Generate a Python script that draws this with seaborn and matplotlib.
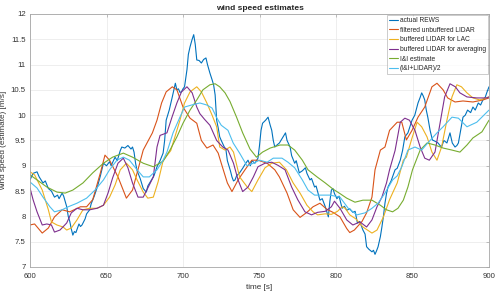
import numpy as np
import pandas as pd
import seaborn as sns
import matplotlib
matplotlib.use("Agg")
import matplotlib.pyplot as plt

# ---- data ----
rews_t = [600, 602, 604.6, 606, 608.5, 610, 612, 614, 616, 618, 619, 621, 622, 624, 625, 626, 627, 628, 629, 630,
          632, 633, 634, 636, 637, 639, 640, 642, 644, 646, 648, 650, 652, 653, 655.6, 657, 659, 660, 662, 664,
          666, 667, 668, 669, 670, 672, 674, 676, 677, 679, 681, 683, 685, 687, 688, 689, 691, 693, 694, 695,
          696, 697, 698, 699, 700, 701, 702.6, 703.5, 704.6, 706, 707, 708, 709, 710.5, 712, 713.5, 715, 716, 717.6, 719,
          720, 721, 721.5, 722, 723, 724, 725, 727, 728, 729, 730, 731, 732, 733, 734, 735, 737, 739, 741, 742.5,
          744, 745, 747, 749, 750, 751, 752, 754, 755.6, 757, 758, 759, 760, 761, 763, 765, 767, 768, 770, 771,
          773, 774, 776, 778, 780, 781, 783, 784, 786, 787, 789.5, 791, 793, 795, 796, 797, 798, 799, 800.6, 802,
          804, 805.5, 807, 809, 811, 812.5, 814, 815.5, 817.6, 819, 820, 821.5, 823.5, 824.5, 825.5, 826.5, 827.5, 829, 830, 831,
          832, 833, 834, 836, 838.6, 840, 842, 843.5, 845, 847, 849.7, 851.5, 853.6, 855, 856, 857, 858, 859, 860, 861.5,
          863, 865, 866.7, 868, 869, 870.5, 872.5, 874.5, 876, 877.8, 879, 880, 881.5, 883, 884.5, 886, 888, 889.5, 891, 893,
          894.5, 896, 897.5, 898.5, 900]
rews_v = [8.72, 8.85, 8.88, 8.78, 8.66, 8.7, 8.55, 8.5, 8.38, 8.42, 8.35, 8.46, 8.4, 8.19, 8.0, 7.9, 7.75, 7.63, 7.7, 7.68,
          7.85, 7.8, 7.83, 7.95, 8.05, 8.13, 8.25, 8.4, 8.58, 8.8, 9.05, 9.0, 9.08, 9.0, 9.17, 9.1, 9.3, 9.37, 9.35, 9.4,
          9.33, 9.37, 9.27, 9.05, 8.9, 8.75, 8.55, 8.48, 8.6, 8.7, 8.8, 8.98, 9.1, 9.25, 9.5, 9.9, 10.1, 10.36, 10.5, 10.63,
          10.5, 10.52, 10.45, 10.46, 10.52, 10.56, 10.9, 11.2, 11.35, 11.5, 11.59, 11.4, 11.09, 11.08, 11.03, 11.1, 11.13, 11.0, 10.83, 10.7,
          10.6, 10.4, 10.16, 9.9, 9.75, 9.57, 9.5, 9.37, 9.33, 9.1, 9.0, 8.9, 8.78, 8.7, 8.72, 8.8, 8.86, 8.95, 9.05, 9.11,
          9.0, 9.1, 9.05, 9.15, 9.4, 9.7, 9.84, 9.9, 9.96, 9.8, 9.7, 9.5, 9.37, 9.4, 9.45, 9.55, 9.65, 9.5, 9.37, 9.2,
          9.05, 9.1, 8.86, 8.9, 8.96, 8.85, 8.72, 8.75, 8.58, 8.6, 8.32, 8.35, 8.19, 7.99, 8.3, 8.52, 8.55, 8.45, 8.35, 8.4,
          8.16, 8.2, 8.12, 8.15, 8.08, 8.1, 7.87, 7.9, 7.73, 7.65, 7.4, 7.35, 7.3, 7.33, 7.25, 7.32, 7.4, 7.6, 7.79, 8.0,
          8.26, 8.45, 8.58, 8.7, 8.92, 8.95, 9.11, 9.3, 9.57, 9.65, 9.9, 10.0, 10.24, 10.35, 10.44, 10.38, 10.3, 10.1, 9.96, 9.7,
          9.51, 9.48, 9.45, 9.4, 9.37, 9.5, 9.45, 9.65, 9.45, 9.37, 9.4, 9.45, 9.7, 9.96, 10.0, 10.1, 10.05, 10.16, 10.1, 10.24,
          10.2, 10.3, 10.35, 10.44, 10.56]

lidar_t = [600, 603, 608, 612, 616, 621, 626, 633, 637, 641, 646, 649, 652, 657.5, 663, 667, 674, 680, 683, 686,
           689, 693, 696, 700, 704.6, 709, 712, 715.6, 719.6, 723, 725, 729, 732, 736, 740.5, 745, 749, 755, 760, 763,
           768, 772, 776.5, 781, 785, 789.5, 794, 798, 802.6, 807, 809, 812, 817, 820, 823.5, 825.5, 829, 832, 835, 840,
           843, 846, 849.7, 853.6, 858, 862.7, 866, 870, 873, 877.8, 883, 889.5, 896, 900]
lidar_v = [7.83, 7.85, 7.67, 7.77, 7.99, 8.13, 8.09, 8.19, 8.19, 8.33, 8.86, 9.21, 9.11, 8.78, 8.36, 8.52, 9.31, 9.65, 9.9, 10.24,
           10.46, 10.56, 10.5, 10.16, 9.94, 9.84, 9.5, 9.35, 9.41, 9.25, 9.05, 8.66, 8.49, 8.72, 8.92, 9.11, 9.11, 9.05, 8.92, 8.78,
           8.46, 8.13, 7.98, 8.08, 8.19, 8.26, 8.14, 8.08, 7.99, 7.76, 7.68, 7.73, 7.9, 8.07, 8.38, 8.92, 9.31, 9.37, 9.7, 9.86,
           9.86, 9.51, 9.7, 9.96, 10.16, 10.56, 10.63, 10.5, 10.34, 10.26, 10.28, 10.26, 10.3, 10.34]

lac_t = [600, 603, 608, 612, 614, 617.6, 621.6, 624, 627, 630.7, 634.6, 639, 644, 648, 652, 655.6, 659, 663, 667, 670,
         674, 677, 680.6, 683.7, 687, 689.5, 692, 695, 698, 701, 704.6, 709, 712, 715.6, 719, 722, 724, 727.5, 730.7, 733,
         737, 742, 745, 749, 753.6, 758, 763, 767.6, 772, 776.5, 781, 785, 788, 793, 797, 801, 804, 806, 809, 813,
         817.6, 823.5, 826.8, 831, 835, 840, 844, 846, 849.7, 853, 856, 859.5, 862.7, 866, 869, 872.5, 875.8, 879, 882, 885.6,
         889.5, 894, 900]
lac_v = [8.88, 8.82, 8.52, 8.13, 7.89, 7.83, 7.79, 7.73, 7.77, 7.93, 8.13, 8.16, 8.16, 8.22, 8.38, 8.62, 8.92, 9.05, 8.92, 8.72,
         8.48, 8.36, 8.38, 8.68, 9.1, 9.2, 9.3, 9.6, 9.9, 10.24, 10.46, 10.56, 10.46, 10.24, 10.0, 9.77, 9.37, 9.31, 9.37, 9.27,
         8.78, 8.58, 8.49, 8.72, 8.96, 9.05, 9.07, 8.92, 8.66, 8.46, 8.22, 8.09, 8.03, 8.05, 8.04, 8.1, 8.19, 8.16, 8.03, 7.95,
         7.79, 7.67, 7.73, 7.99, 8.33, 8.66, 9.11, 9.17, 9.55, 9.86, 9.77, 9.57, 9.27, 9.11, 9.37, 9.9, 10.36, 10.6, 10.56, 10.44,
         10.34, 10.3, 10.36]

avg_t = [600, 602, 604.6, 608, 611, 614, 616, 619.6, 624, 627, 630.7, 634.6, 639, 643.8, 648, 651, 654, 657.5, 661, 664,
         667, 670.6, 674, 677, 680.6, 683, 685, 689.5, 692.8, 696, 699, 702.6, 706, 709, 711, 714, 717.6, 722, 726, 729.4,
         733, 736, 739, 742.5, 746, 749, 753.6, 758, 762, 766.7, 771, 775, 779.7, 784, 788, 793, 797, 799, 802.6, 807,
         811, 815.7, 820, 823.5, 826.8, 830, 833, 835, 838.6, 842, 845, 848, 851.6, 855, 858, 861, 864.7, 868, 871, 874.5,
         878, 881, 885.6, 892, 898.5, 900]
avg_v = [8.56, 8.33, 8.09, 7.83, 7.85, 7.83, 7.69, 7.73, 7.87, 8.07, 8.16, 8.13, 8.13, 8.16, 8.22, 8.46, 8.76, 9.05, 9.15, 8.96,
         8.66, 8.38, 8.38, 8.56, 8.78, 9.37, 9.6, 9.65, 9.96, 10.24, 10.46, 10.56, 10.44, 10.16, 10.03, 9.92, 9.8, 9.5, 9.37, 9.31,
         9.05, 8.72, 8.49, 8.58, 8.78, 8.98, 9.05, 9.07, 9.01, 8.92, 8.58, 8.33, 8.09, 8.03, 8.08, 8.1, 8.19, 8.3, 8.16, 7.93,
         7.83, 7.89, 7.79, 7.93, 8.19, 8.38, 8.66, 8.92, 9.3, 9.86, 9.94, 9.9, 9.7, 9.37, 9.15, 9.11, 9.27, 9.84, 10.36, 10.62,
         10.56, 10.44, 10.36, 10.34, 10.34, 10.36]

ii_t = [600, 604.6, 611, 617.6, 623, 628, 634.6, 641, 648, 654, 661, 667, 674, 680.6, 687, 691.5, 696, 700, 704.6, 709,
        713, 717.6, 721, 724, 727.5, 730.7, 735, 739, 743.8, 748, 752, 757, 763.4, 768.6, 773, 778, 781.7, 787.6, 793, 798,
        802.6, 807, 812.4, 817.6, 823.5, 829, 833, 837, 840.5, 844, 847, 850, 855, 859.5, 864.7, 870, 875.8, 881, 885.6, 889.5,
        895.4, 900]
ii_v = [8.82, 8.72, 8.58, 8.48, 8.46, 8.52, 8.66, 8.86, 9.05, 9.17, 9.25, 9.17, 9.05, 8.98, 9.09, 9.31, 9.57, 9.84, 10.1, 10.3,
        10.5, 10.6, 10.62, 10.56, 10.44, 10.27, 9.96, 9.65, 9.33, 9.17, 9.27, 9.35, 9.41, 9.41, 9.31, 9.11, 8.92, 8.78, 8.66, 8.54,
        8.45, 8.36, 8.28, 8.32, 8.32, 8.22, 8.13, 8.09, 8.16, 8.32, 8.58, 8.92, 9.31, 9.45, 9.41, 9.35, 9.31, 9.27, 9.41, 9.55,
        9.67, 9.9]

mix_t = [600, 604.6, 608.5, 613, 616, 621, 625, 630.7, 637, 642.5, 648, 652, 656.8, 661, 665, 670, 674, 678, 683, 687,
         689.5, 693.5, 698, 701, 705.6, 711, 715.6, 719, 722, 725, 729.4, 732.8, 737, 741.8, 746, 750, 755, 759, 764.7, 768.6,
         773, 778, 781.7, 786, 791, 796, 802.6, 808, 813.7, 819, 823.5, 827.5, 832, 837, 840, 843, 847, 851.6, 856, 860,
         866, 870, 875.8, 880, 885.6, 892, 900]
mix_v = [8.68, 8.56, 8.38, 8.19, 8.09, 8.13, 8.19, 8.26, 8.36, 8.52, 8.72, 8.92, 9.11, 9.17, 9.11, 8.92, 8.78, 8.78, 8.92, 9.11,
         9.27, 9.65, 9.96, 10.16, 10.2, 10.24, 10.2, 10.14, 9.95, 9.8, 9.7, 9.45, 9.25, 9.0, 9.05, 9.11, 9.07, 9.15, 9.15, 9.07,
         8.96, 8.72, 8.52, 8.42, 8.42, 8.42, 8.38, 8.16, 8.03, 8.07, 8.16, 8.26, 8.46, 8.72, 8.8, 8.98, 9.31, 9.37, 9.31, 9.45,
         9.65, 9.77, 9.96, 9.94, 9.77, 9.86, 10.1]

labels = ["actual REWS", "filtered unbuffered LIDAR", "buffered LIDAR for LAC",
          "buffered LIDAR for averaging", "I&I estimate", "(I&I+LIDAR)/2"]
colors = ["#0072BD", "#D95319", "#EDB120", "#7E2F8E", "#77AC30", "#4DBEEE"]

series = [(rews_t, rews_v), (lidar_t, lidar_v), (lac_t, lac_v),
          (avg_t, avg_v), (ii_t, ii_v), (mix_t, mix_v)]
frames = []
for lab, (t, v) in zip(labels, series):
    frames.append(pd.DataFrame({"time": t, "speed": v, "series": lab}))
df = pd.concat(frames, ignore_index=True)

sns.set_style("white")
plt.rcParams['font.family'] = ['Liberation Sans', 'DejaVu Sans']

fig = plt.figure(figsize=(5.0, 2.96), dpi=100)
ax = fig.add_axes([0.06, 0.098, 0.918, 0.855])

sns.lineplot(data=df, x="time", y="speed", hue="series", hue_order=labels,
             palette=dict(zip(labels, colors)), estimator=None, sort=False,
             linewidth=0.8, ax=ax, legend=True)

ax.set_xlim(600, 900)
ax.set_ylim(7, 12)
ax.set_xticks(np.arange(600, 901, 50))
ax.set_yticks(np.arange(7, 12.01, 0.5))
ax.set_yticklabels([f"{v:g}" for v in np.arange(7, 12.01, 0.5)])
ax.grid(True, color="#e8e8e8", linewidth=0.5)
ax.set_axisbelow(True)
for s in ax.spines.values():
    s.set_color("#a6a6a6")
    s.set_linewidth(0.6)
ax.tick_params(direction="in", length=2.5, width=0.5, labelsize=5.6, colors="#a6a6a6",
               labelcolor="#333333", pad=3, top=True, right=True)
ax.tick_params(axis="x", pad=4)
ax.set_xlabel("time [s]", fontsize=5.9, color="#333333", labelpad=3)
ax.set_ylabel("wind speed (estimate) [m/s]", fontsize=5.9, color="#333333", labelpad=3)
ax.set_title("wind speed estimates", fontsize=6.0, fontweight="bold", pad=3)

leg = ax.legend(loc="upper right", fontsize=4.8, frameon=True, fancybox=False,
                handlelength=1.4, handletextpad=0.3, borderpad=0.25, labelspacing=0.4,
                borderaxespad=0.2)
leg.get_frame().set_edgecolor("#a6a6a6")
leg.get_frame().set_linewidth(0.5)
for line in leg.get_lines():
    line.set_linewidth(0.8)

fig.savefig("out.png", dpi=100)
